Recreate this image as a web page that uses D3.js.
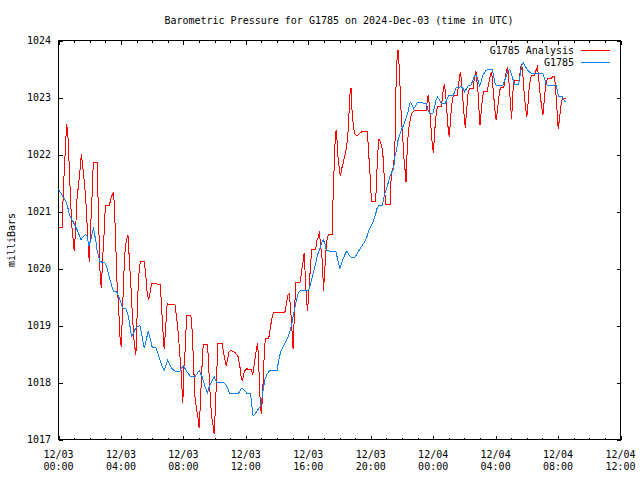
<!DOCTYPE html>
<html>
<head>
<meta charset="utf-8">
<script src="https://cdn.jsdelivr.net/npm/d3@7"></script>
<style>
  body { margin: 0; background: #fff; }
  svg { display: block; }
  text { font-family: "DejaVu Sans Mono", "Liberation Mono", monospace; font-size: 10px; fill: #000; }
</style>
</head>
<body>
<svg id="chart" width="640" height="480"></svg>
<script>
// ---- data (hours after 2024-12-03 00:00 UTC, pressure in mbar) ----
const titleText = "Barometric Pressure for G1785 on 2024-Dec-03 (time in UTC)";
const yTitle = "milliBars";
const seriesNames = ["G1785 Analysis", "G1785"];
const yTicks = [1017, 1018, 1019, 1020, 1021, 1022, 1023, 1024];
const xTickDates = ["12/03", "12/03", "12/03", "12/03", "12/03", "12/03", "12/04", "12/04", "12/04", "12/04"];
const xTickTimes = ["00:00", "04:00", "08:00", "12:00", "16:00", "20:00", "00:00", "04:00", "08:00", "12:00"];

const analysisHours = [0,0.24,0.31,0.52,0.59,0.67,0.74,0.84,1.01,1.10,1.18,1.38,1.46,1.55,1.74,1.84,1.93,1.97,2.06,2.14,2.23,2.48,2.55,2.66,2.74,2.83,2.91,3.00,3.25,3.36,3.51,3.57,3.66,3.74,3.85,3.94,4.02,4.11,4.19,4.28,4.36,4.45,4.53,4.64,4.75,4.85,4.96,5.04,5.13,5.24,5.49,5.58,5.68,5.77,5.88,5.96,6.52,6.60,6.69,6.77,6.86,6.96,7.46,7.56,7.67,7.78,7.88,7.95,8.00,8.05,8.13,8.20,8.48,8.56,8.65,8.74,8.84,8.95,9.01,9.08,9.16,9.27,9.55,9.63,9.72,9.80,9.91,9.97,10.05,10.12,10.21,10.48,10.59,10.66,10.74,10.83,10.93,11.04,11.30,11.40,11.51,11.62,11.72,11.79,11.87,11.96,12.06,12.36,12.45,12.53,12.61,12.68,12.75,12.81,12.88,12.94,13.00,13.07,13.13,13.20,13.26,13.47,13.58,13.66,13.77,14.50,14.60,14.71,14.78,14.82,14.92,14.99,15.03,15.09,15.15,15.20,15.46,15.52,15.58,15.67,15.73,15.80,15.86,15.95,16.03,16.14,16.22,16.48,16.56,16.65,16.72,16.78,16.86,16.93,16.97,17.04,17.10,17.16,17.23,17.29,17.52,17.59,17.65,17.72,17.78,17.84,17.91,18.00,18.06,18.14,18.23,18.32,18.40,18.48,18.57,18.66,18.74,18.80,18.89,18.99,19.12,19.30,19.42,19.55,19.76,19.82,19.89,19.96,20.02,20.06,20.32,20.38,20.45,20.53,20.62,20.70,20.79,20.88,20.94,21.24,21.30,21.36,21.43,21.49,21.56,21.62,21.68,21.75,21.81,21.88,21.96,22.05,22.13,22.22,22.26,22.32,22.39,22.45,22.54,22.64,22.82,23.56,23.63,23.69,23.76,23.82,23.88,23.95,24.01,24.08,24.14,24.20,24.27,24.52,24.59,24.65,24.72,24.78,24.84,24.91,24.97,25.03,25.10,25.16,25.23,25.29,25.55,25.61,25.68,25.74,25.80,25.87,25.93,26.00,26.06,26.12,26.19,26.25,26.34,26.55,26.61,26.68,26.74,26.80,26.87,26.93,27.00,27.06,27.12,27.19,27.25,27.47,27.55,27.64,27.72,27.79,27.85,27.92,27.98,28.04,28.11,28.17,28.24,28.30,28.51,28.58,28.64,28.70,28.77,28.83,28.90,28.96,29.02,29.08,29.13,29.22,29.52,29.58,29.65,29.73,29.79,29.86,29.94,30.00,30.08,30.16,30.22,30.29,30.50,30.58,30.67,30.73,30.80,30.86,30.94,31.03,31.10,31.18,31.26,31.35,31.56,31.65,31.78,31.84,31.90,31.97,32.01,32.08,32.14,32.20,32.27,32.37,32.44,32.52];
const analysisValues = [1020.72,1020.72,1021.38,1022.53,1022.40,1021.91,1021.43,1020.79,1020.30,1020.70,1021.20,1021.73,1022.00,1021.81,1021.26,1020.73,1020.30,1020.12,1020.73,1021.20,1021.86,1021.86,1021.03,1019.95,1019.65,1020.18,1020.56,1021.10,1021.10,1021.23,1021.34,1021.17,1020.50,1019.80,1019.33,1018.80,1018.63,1019.33,1019.92,1020.38,1020.50,1020.59,1020.20,1019.68,1019.10,1018.69,1018.49,1019.22,1019.86,1020.13,1020.13,1019.92,1019.57,1019.45,1019.60,1019.74,1019.72,1019.33,1018.90,1018.58,1018.95,1019.38,1019.36,1019.16,1018.87,1018.46,1018.10,1017.64,1017.85,1018.40,1018.60,1019.17,1019.17,1018.92,1018.34,1017.76,1017.53,1017.35,1017.20,1017.58,1018.11,1018.67,1018.67,1018.22,1017.76,1017.41,1017.23,1017.09,1017.55,1018.05,1018.69,1018.69,1018.49,1018.40,1018.30,1018.40,1018.54,1018.56,1018.53,1018.49,1018.45,1018.28,1018.05,1018.04,1018.15,1018.22,1018.24,1018.22,1018.14,1018.30,1018.45,1018.60,1018.69,1018.45,1017.90,1017.58,1017.44,1017.79,1018.17,1018.63,1018.78,1018.78,1018.98,1019.11,1019.23,1019.23,1019.39,1019.54,1019.56,1019.45,1019.10,1018.75,1018.58,1019.05,1019.45,1019.75,1019.75,1019.83,1019.98,1020.12,1020.27,1019.92,1019.57,1019.25,1019.57,1020.03,1020.34,1020.34,1020.50,1020.55,1020.65,1020.40,1020.27,1019.98,1019.60,1019.90,1020.15,1020.44,1020.55,1020.59,1020.59,1021.26,1021.72,1022.25,1022.43,1022.25,1021.93,1021.72,1021.62,1021.75,1021.84,1021.96,1022.04,1022.19,1022.48,1023.04,1023.17,1022.78,1022.48,1022.36,1022.33,1022.37,1022.40,1022.41,1022.41,1022.25,1021.93,1021.64,1021.32,1021.18,1021.18,1021.61,1022.02,1022.27,1022.22,1022.16,1021.96,1021.55,1021.12,1021.12,1021.55,1021.70,1021.76,1021.90,1022.25,1023.18,1023.65,1023.83,1023.60,1023.18,1022.66,1022.31,1021.93,1021.67,1021.52,1021.96,1022.31,1022.48,1022.63,1022.73,1022.78,1022.78,1022.98,1023.04,1022.85,1022.63,1022.40,1022.16,1022.03,1022.30,1022.57,1022.72,1022.85,1022.85,1022.98,1023.15,1023.24,1023.10,1022.92,1022.63,1022.43,1022.31,1022.55,1022.80,1022.95,1023.03,1023.03,1023.21,1023.33,1023.45,1023.33,1023.10,1022.86,1022.63,1022.47,1022.70,1022.92,1023.11,1023.15,1023.15,1023.27,1023.39,1023.46,1023.30,1023.10,1022.80,1022.52,1022.70,1022.89,1023.04,1023.11,1023.11,1023.24,1023.35,1023.45,1023.35,1023.10,1022.90,1022.69,1022.60,1022.75,1022.92,1023.07,1023.17,1023.17,1023.27,1023.39,1023.47,1023.53,1023.35,1023.10,1022.86,1022.63,1022.90,1023.21,1023.30,1023.30,1023.47,1023.59,1023.47,1023.21,1022.98,1022.78,1022.66,1022.90,1023.21,1023.30,1023.39,1023.39,1023.47,1023.53,1023.42,1023.21,1023.04,1022.86,1022.69,1022.90,1023.15,1023.30,1023.33,1023.33,1023.36,1023.36,1023.15,1022.92,1022.63,1022.45,1022.60,1022.75,1022.89,1022.98,1022.98,1022.99,1022.97];

const stationHours = [0,0.16,0.31,0.46,0.59,0.67,0.76,0.88,0.99,1.10,1.23,1.31,1.44,1.59,1.74,1.84,1.95,2.06,2.16,2.25,2.34,2.42,2.48,2.57,2.66,2.98,3.08,3.19,3.30,3.40,3.51,3.72,3.83,3.94,4.04,4.15,4.30,4.43,4.51,4.60,4.68,4.75,4.90,5.00,5.22,5.36,5.49,5.62,5.75,5.86,6.00,6.22,6.39,6.56,6.77,6.88,6.99,7.14,7.28,7.46,7.78,7.99,8.20,8.46,8.74,9.01,9.20,9.38,9.55,9.66,9.80,9.97,10.12,10.55,10.76,10.98,11.51,11.72,11.94,12.08,12.30,12.38,12.47,12.64,12.79,12.94,13.02,13.11,13.22,13.36,13.54,14.00,14.11,14.24,14.39,14.56,14.71,14.86,14.96,15.07,15.20,15.35,15.50,15.99,16.10,16.20,16.31,16.42,16.52,16.63,16.74,16.85,16.95,17.06,17.16,17.76,17.84,17.93,18.02,18.13,18.23,18.34,18.48,18.61,18.76,18.99,19.15,19.30,19.47,19.62,19.76,19.89,20.04,20.15,20.30,20.40,20.53,20.75,20.85,20.94,21.04,21.15,21.26,21.36,21.47,21.54,21.65,21.75,21.86,21.96,22.07,22.18,22.29,22.39,22.50,22.56,22.67,22.75,22.86,22.99,23.56,23.65,23.76,23.99,24.08,24.18,24.27,24.40,24.52,24.78,24.88,24.99,25.27,25.38,25.48,25.70,25.80,25.93,26.02,26.12,26.23,26.40,26.55,26.66,26.77,26.87,26.98,27.09,27.19,27.34,27.51,27.76,27.87,27.98,28.47,28.58,28.70,28.80,28.90,29.01,29.11,29.22,29.47,29.58,29.68,29.77,29.90,30.03,30.16,30.29,31.03,31.14,31.25,31.89,31.97,32.03,32.27,32.37,32.48];
const stationValues = [1021.39,1021.32,1021.25,1021.19,1021.08,1020.97,1020.90,1020.85,1020.79,1020.73,1020.66,1020.60,1020.51,1020.56,1020.60,1020.56,1020.40,1020.49,1020.63,1020.70,1020.56,1020.44,1020.30,1020.21,1020.12,1020.10,1020.03,1019.92,1019.80,1019.71,1019.60,1019.60,1019.52,1019.45,1019.36,1019.30,1019.30,1019.21,1019.10,1018.95,1018.81,1018.84,1018.93,1018.97,1019.00,1018.80,1018.60,1018.75,1018.90,1018.78,1018.62,1018.62,1018.49,1018.34,1018.21,1018.30,1018.39,1018.31,1018.24,1018.20,1018.20,1018.30,1018.20,1018.10,1018.10,1018.21,1018.10,1017.93,1017.82,1017.93,1018.00,1018.10,1018.00,1018.00,1017.95,1017.80,1017.80,1017.90,1017.86,1017.80,1017.80,1017.60,1017.41,1017.47,1017.53,1017.58,1017.70,1017.88,1018.05,1018.15,1018.21,1018.21,1018.40,1018.55,1018.63,1018.72,1018.80,1018.93,1019.04,1019.22,1019.39,1019.57,1019.61,1019.61,1019.68,1019.78,1019.92,1020.03,1020.15,1020.27,1020.35,1020.44,1020.51,1020.44,1020.31,1020.30,1020.21,1020.10,1020.00,1020.09,1020.17,1020.24,1020.31,1020.24,1020.20,1020.20,1020.27,1020.34,1020.41,1020.47,1020.56,1020.68,1020.76,1020.82,1020.94,1021.05,1021.11,1021.11,1021.26,1021.35,1021.43,1021.53,1021.64,1021.70,1021.75,1021.96,1022.08,1022.25,1022.34,1022.43,1022.49,1022.57,1022.66,1022.75,1022.90,1022.91,1022.86,1022.80,1022.85,1022.91,1022.90,1022.80,1022.72,1022.72,1022.82,1022.95,1023.01,1022.96,1022.90,1022.90,1022.97,1023.03,1023.03,1023.10,1023.18,1023.18,1023.19,1023.15,1023.10,1023.15,1023.20,1023.21,1023.30,1023.39,1023.39,1023.30,1023.20,1023.30,1023.39,1023.46,1023.50,1023.50,1023.39,1023.22,1023.21,1023.30,1023.39,1023.47,1023.49,1023.42,1023.32,1023.22,1023.22,1023.40,1023.56,1023.61,1023.55,1023.49,1023.45,1023.42,1023.42,1023.33,1023.22,1023.21,1023.10,1023.01,1023.01,1022.96,1022.92];

const colors = ["#ff0000", "#1080f0"];

// ---- chart ----
const svg = d3.select("#chart");
const t0 = Date.UTC(2024, 11, 3);
const toDate = h => new Date(t0 + h * 3600000);

const pLeft = 58.5, pRight = 620.5, pTop = 40.5, pBottom = 439.5;
const x = d3.scaleUtc().domain([toDate(0), toDate(36)]).range([pLeft, pRight]);
const y = d3.scaleLinear().domain([1017, 1024]).range([pBottom, pTop]);

// frame
svg.append("rect").attr("x", pLeft).attr("y", pTop).attr("width", pRight - pLeft).attr("height", pBottom - pTop)
  .attr("fill", "none").attr("stroke", "#000").attr("stroke-width", 1).attr("shape-rendering", "crispEdges");

const hourTicks = d3.range(0, 37).map(toDate);
const majorTicks = d3.range(0, 37, 4).map(toDate);

function styleAxis(g) {
  g.select(".domain").remove();
  g.selectAll("line").attr("stroke", "#000").attr("shape-rendering", "crispEdges");
  g.selectAll("text").remove();
}
// bottom/top minor + major ticks (inward)
svg.append("g").attr("transform", `translate(0,${pBottom})`).call(d3.axisBottom(x).tickValues(hourTicks).tickSize(-2)).call(styleAxis);
svg.append("g").attr("transform", `translate(0,${pBottom})`).call(d3.axisBottom(x).tickValues(majorTicks).tickSize(-4)).call(styleAxis);
svg.append("g").attr("transform", `translate(0,${pTop})`).call(d3.axisTop(x).tickValues(hourTicks).tickSize(-2)).call(styleAxis);
svg.append("g").attr("transform", `translate(0,${pTop})`).call(d3.axisTop(x).tickValues(majorTicks).tickSize(-4)).call(styleAxis);
// left/right ticks
svg.append("g").attr("transform", `translate(${pLeft},0)`).call(d3.axisLeft(y).tickValues(yTicks).tickSize(-4)).call(styleAxis);
svg.append("g").attr("transform", `translate(${pRight},0)`).call(d3.axisRight(y).tickValues(yTicks).tickSize(-4)).call(styleAxis);

// y tick labels
svg.append("g").selectAll("text").data(yTicks).join("text")
  .attr("x", 51).attr("y", d => y(d)).attr("dy", "0.35em").attr("text-anchor", "end").text(d => d);

// x tick labels (two lines)
const xl = svg.append("g").selectAll("g").data(majorTicks).join("g");
xl.append("text").attr("x", d => x(d)).attr("y", 454).attr("dy", "0.35em").attr("text-anchor", "middle").text((d, i) => xTickDates[i]);
xl.append("text").attr("x", d => x(d)).attr("y", 466.5).attr("dy", "0.35em").attr("text-anchor", "middle").text((d, i) => xTickTimes[i]);

// title
svg.append("text").attr("x", 339).attr("y", 20).attr("dy", "0.35em").attr("text-anchor", "middle").text(titleText);
// y title
svg.append("text").attr("transform", "translate(11,240) rotate(-90)").attr("dy", "0.35em").attr("text-anchor", "middle").text(yTitle);

// lines
const line = d3.line().x(d => x(toDate(d[0]))).y(d => y(d[1]));
const seriesData = [
  d3.zip(analysisHours, analysisValues),
  d3.zip(stationHours, stationValues)
];
seriesData.forEach((data, i) => {
  svg.append("path").datum(data).attr("d", line)
    .attr("fill", "none").attr("stroke", colors[i]).attr("stroke-width", 1)
    .attr("stroke-linejoin", "miter").attr("shape-rendering", "crispEdges");
});

// legend
const lg = svg.append("g");
seriesNames.forEach((name, i) => {
  const yy = 50 + i * 12.5;
  lg.append("text").attr("x", 574).attr("y", yy).attr("dy", "0.35em").attr("text-anchor", "end").text(name);
  lg.append("line").attr("x1", 581).attr("x2", 610).attr("y1", yy).attr("y2", yy)
    .attr("stroke", colors[i]).attr("stroke-width", 1).attr("shape-rendering", "crispEdges");
});
</script>
</body>
</html>
